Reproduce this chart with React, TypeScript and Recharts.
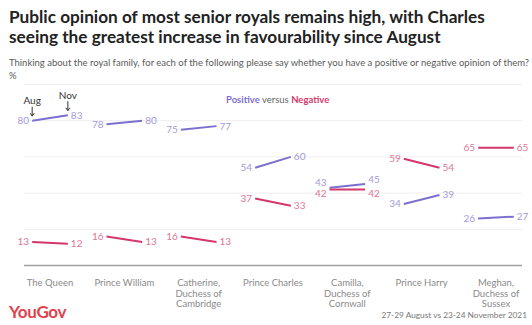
import React from "react";
import { LineChart, Line, XAxis, YAxis, CartesianGrid, LabelList } from "recharts";

const categories = [
  "The Queen",
  "Prince William",
  "Catherine, Duchess of Cambridge",
  "Prince Charles",
  "Camilla, Duchess of Cornwall",
  "Prince Harry",
  "Meghan, Duchess of Sussex",
];
const categoryLines = [
  ["The Queen"],
  ["Prince William"],
  ["Catherine,", "Duchess of", "Cambridge"],
  ["Prince Charles"],
  ["Camilla,", "Duchess of", "Cornwall"],
  ["Prince Harry"],
  ["Meghan,", "Duchess of", "Sussex"],
];
const positiveAug = [80, 78, 75, 54, 43, 34, 26];
const positiveNov = [83, 80, 77, 60, 45, 39, 27];
const negativeAug = [13, 16, 16, 37, 42, 59, 65];
const negativeNov = [12, 13, 13, 33, 42, 54, 65];
const periodLabels = ["Aug", "Nov"];
const gridTicks = [20, 40, 60, 80];

const POS_LINE = "#7b70cf";
const POS_TEXT = "#a29ade";
const NEG_LINE = "#d4376c";
const NEG_TEXT = "#e07596";
const FONT = "Lato, 'Open Sans', sans-serif";
const OFFSET = 0.24;

type Row = { x: number; pos: number | null; neg: number | null; side?: number; g?: number };
const rows: Row[] = [];
categories.forEach((_, i) => {
  rows.push({ x: i - OFFSET, pos: positiveAug[i], neg: negativeAug[i], side: 0, g: i });
  rows.push({ x: i + OFFSET, pos: positiveNov[i], neg: negativeNov[i], side: 1, g: i });
  if (i < categories.length - 1) rows.push({ x: i + 0.5, pos: null, neg: null });
});

const makeLabel = (series: "pos" | "neg") => (props: any) => {
  const { x, y, value, index } = props;
  if (value == null || x == null || y == null) return null;
  const row = rows[index];
  if (!row || row.side == null) return null;
  const isAug = row.side === 0;
  const other = series === "pos" ? row.neg : row.pos;
  let dy = 0;
  if (other != null && Math.abs(value - (other as number)) < 5) dy = value >= (other as number) ? -5 : 4;
  const color = series === "pos" ? POS_TEXT : NEG_TEXT;
  const showAnno = series === "pos" && row.g === 0;
  return (
    <g>
      <text
        x={isAug ? x - 3 : x + 3}
        y={y + dy}
        dy="0.35em"
        textAnchor={isAug ? "end" : "start"}
        fill={color}
        fontSize={10}
        fontFamily={FONT}
      >
        {value}
      </text>
      {showAnno && (
        <g>
          <text x={x} y={y - 20} dy="0.35em" textAnchor="middle" fill="#333" fontSize={10} fontFamily={FONT}>
            {periodLabels[row.side]}
          </text>
          <line x1={x} y1={y - 14} x2={x} y2={y - 5} stroke="#333" strokeWidth={1} />
          <path d={`M${x - 2},${y - 7.5} L${x},${y - 4.5} L${x + 2},${y - 7.5}`} fill="none" stroke="#333" strokeWidth={1} />
        </g>
      )}
    </g>
  );
};

const CategoryTick = (props: any) => {
  const { x, y, payload } = props;
  const lines = categoryLines[payload.value] || [];
  return (
    <g>
      {lines.map((l, k) => (
        <text
          key={k}
          x={x}
          y={y + 9.5 + k * 10.5}
          dy="0.35em"
          textAnchor="middle"
          fill="#8a8a8a"
          fontSize={9.5}
          fontFamily={FONT}
        >
          {l}
        </text>
      ))}
    </g>
  );
};

export default function App() {
  return (
    <div
      style={{
        position: "absolute",
        left: 0,
        top: 0,
        width: 532,
        height: 325,
        background: "#fff",
        fontFamily: FONT,
        overflow: "hidden",
      }}
    >
      <div style={{ position: "absolute", left: 9, top: 7, fontSize: 17.2, fontWeight: 700, color: "#222", lineHeight: "20px", whiteSpace: "nowrap" }}>
        <div>Public opinion of most senior royals remains high, with Charles</div>
        <div>seeing the greatest increase in favourability since August</div>
      </div>
      <div style={{ position: "absolute", left: 9, top: 56, fontSize: 9.5, color: "#5a5a5a", lineHeight: "13px", whiteSpace: "nowrap" }}>
        <div>Thinking about the royal family, for each of the following please say whether you have a positive or negative opinion of them?</div>
        <div>%</div>
      </div>
      <div style={{ position: "absolute", left: 226, top: 94, fontSize: 9.5, color: "#666", whiteSpace: "nowrap" }}>
        <span style={{ color: POS_LINE, fontWeight: 700 }}>Positive</span> versus{" "}
        <span style={{ color: NEG_LINE, fontWeight: 700 }}>Negative</span>
      </div>
      <div style={{ position: "absolute", left: 0, top: 0 }}>
        <LineChart width={532} height={325} data={rows} margin={{ top: 84.5, right: 10, bottom: 9.5, left: 24 }}>
          <CartesianGrid horizontal vertical={false} stroke="#eeeeee" strokeWidth={1} />
          <YAxis hide domain={[0, 100]} ticks={gridTicks} type="number" />
          <XAxis
            dataKey="x"
            type="number"
            domain={[-0.35, 6.35]}
            ticks={[0, 1, 2, 3, 4, 5, 6]}
            interval={0}
            height={50}
            tick={<CategoryTick />}
            tickLine={false}
            axisLine={{ stroke: "#a0a0a0", strokeWidth: 1.5 }}
          />
          <Line
            dataKey="pos"
            stroke={POS_LINE}
            strokeWidth={2}
            dot={false}
            activeDot={false}
            connectNulls={false}
            isAnimationActive={false}
          >
            <LabelList dataKey="pos" content={makeLabel("pos")} />
          </Line>
          <Line
            dataKey="neg"
            stroke={NEG_LINE}
            strokeWidth={2}
            dot={false}
            activeDot={false}
            connectNulls={false}
            isAnimationActive={false}
          >
            <LabelList dataKey="neg" content={makeLabel("neg")} />
          </Line>
        </LineChart>
      </div>
      <div style={{ position: "absolute", left: 9, top: 301, fontSize: 17, fontWeight: 700, color: "#e0414c", letterSpacing: -0.3 }}>
        YouGov
      </div>
      <div style={{ position: "absolute", right: 5, top: 310, fontSize: 8.3, color: "#777", whiteSpace: "nowrap" }}>
        27-29 August vs 23-24 November 2021
      </div>
    </div>
  );
}
